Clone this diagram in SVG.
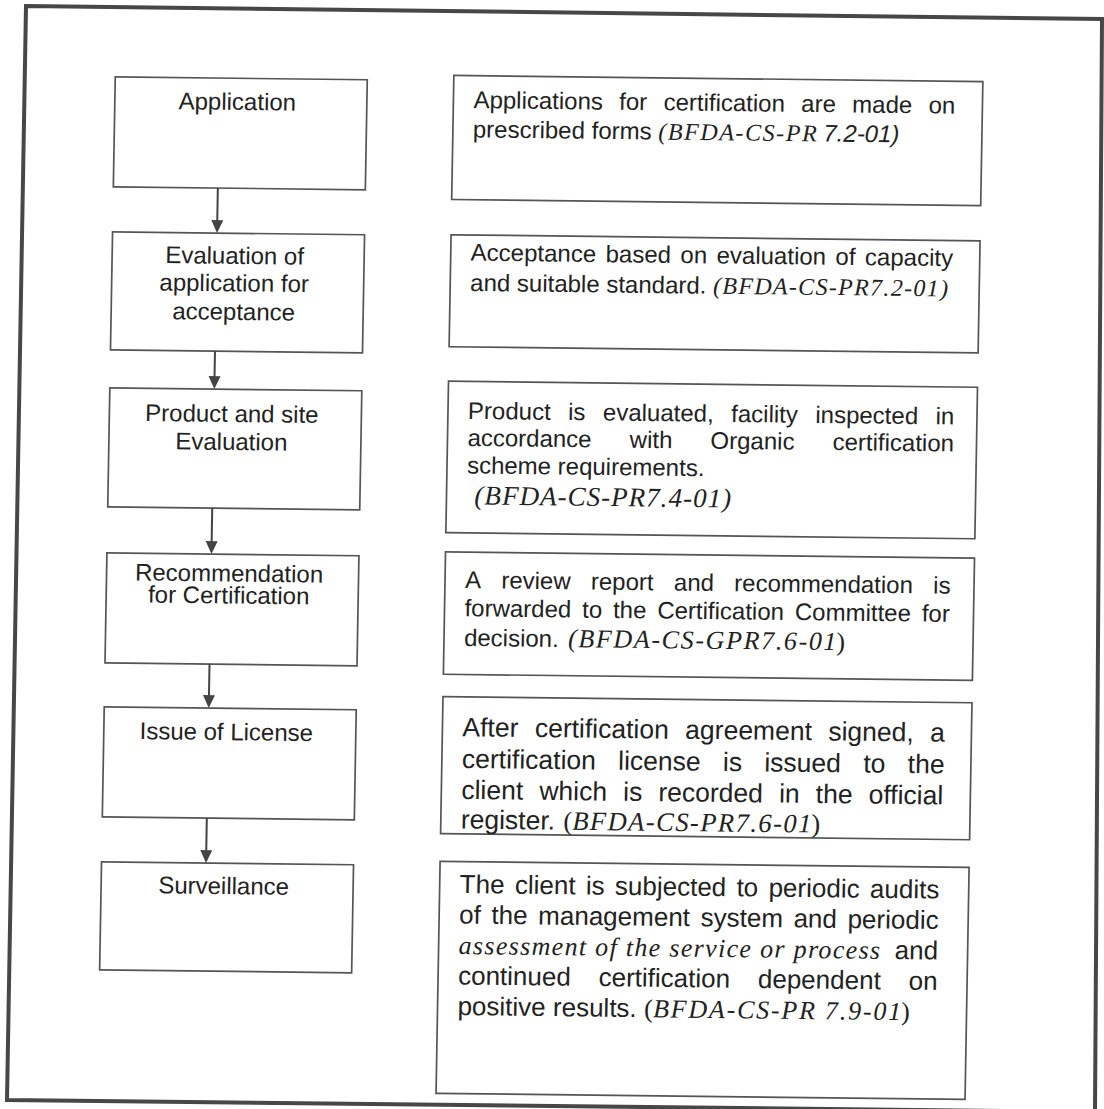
<svg xmlns="http://www.w3.org/2000/svg" width="1104" height="1109" viewBox="0 0 1104 1109">
<style>
.frame{fill:none;stroke:#474747;stroke-width:4;stroke-linejoin:miter}
.box{fill:none;stroke:#555;stroke-width:1.7}
.lt{font-family:"Liberation Sans",Arial,sans-serif;font-size:24px;fill:#222;text-anchor:middle}
.rt{font-family:"Liberation Sans",Arial,sans-serif;font-size:24px;fill:#222}
.rb{font-family:"Liberation Sans",Arial,sans-serif;font-size:26.5px;fill:#222}
.rc{font-family:"Liberation Sans",Arial,sans-serif;font-size:26px;fill:#222}
.si{font-family:"Liberation Serif","Times New Roman",serif;font-style:italic;fill:#222}
.su{font-family:"Liberation Serif","Times New Roman",serif;fill:#222}
.ai{font-family:"Liberation Sans",Arial,sans-serif;font-style:italic;font-size:24px;fill:#222}
.conn line{stroke:#444;stroke-width:2}
.conn path{fill:#444;stroke:none}
</style>
<rect width="1104" height="1109" fill="#fff"/>
<path class="frame" d="M26,6 L1102,19 L1095,1112 L7,1100 Z"/>
<g transform="matrix(1 0.0115 -0.0175 1 9.7 -6.35)">
<g id="n1"><rect class="box" x="107" y="82" width="252" height="110"/><text class="lt" x="229.5" y="113.6">Application</text></g>
<g id="n2"><rect class="box" x="107" y="237" width="252" height="118"/><text class="lt" x="229.5" y="267.6">Evaluation of</text><text class="lt" x="229.5" y="295">application for</text><text class="lt" x="229.5" y="323.6">acceptance</text></g>
<g id="n3"><rect class="box" x="107" y="393" width="252" height="119"/><text class="lt" x="229.5" y="425.7">Product and site</text><text class="lt" x="229.5" y="453.7">Evaluation</text></g>
<g id="n4"><rect class="box" x="107" y="558" width="252" height="110"/><text class="lt" x="229.5" y="585.2">Recommendation</text><text class="lt" x="229.5" y="607.2">for Certification</text></g>
<g id="n5"><rect class="box" x="107" y="712" width="252" height="110"/><text class="lt" x="229.5" y="743.8">Issue of License</text></g>
<g id="n6"><rect class="box" x="107" y="867" width="252" height="108"/><text class="lt" x="229.5" y="897.8">Surveillance</text></g>

<g id="d1"><rect class="box" x="445.5" y="76.7" width="529" height="124"/>
<text class="rt" y="109.1"><tspan x="465.6">Applications</tspan><tspan x="611.3">for</tspan><tspan x="655.6">certification</tspan><tspan x="793.3">are</tspan><tspan x="844.3">made</tspan><tspan x="920.6">on</tspan></text>
<text class="rt" x="465.5" y="138.4">prescribed forms</text>
<text class="si" x="650.9" y="138.4" font-size="24" textLength="158.4" lengthAdjust="spacing">(BFDA-CS-PR</text>
<text class="ai" x="816" y="138.4">7.2-01)</text>
</g>
<g id="d2"><rect class="box" x="445.5" y="236" width="529" height="112"/>
<text class="rt" x="465.5" y="261.6" word-spacing="2.8">Acceptance based on evaluation of capacity</text>
<text class="rt" x="465.5" y="291.9">and suitable standard.</text>
<text class="si" x="708.3" y="291.9" font-size="24" textLength="235" lengthAdjust="spacing">(BFDA-CS-PR7.2-01)</text>
</g>
<g id="d3"><rect class="box" x="445.5" y="382.4" width="529" height="151.5"/>
<text class="rt" y="419.9"><tspan x="465.5">Product</tspan><tspan x="565.7">is</tspan><tspan x="600.5">evaluated,</tspan><tspan x="728.7">facility</tspan><tspan x="812.9">inspected</tspan><tspan x="933.1">in</tspan></text>
<text class="rt" y="446.9"><tspan x="465.5">accordance</tspan><tspan x="627.7">with</tspan><tspan x="708.5">Organic</tspan><tspan x="830.6">certification</tspan></text>
<text class="rt" x="465.5" y="474.4">scheme requirements.</text>
<text class="si" x="473.5" y="505.4" font-size="27" textLength="256.6" lengthAdjust="spacing">(BFDA-CS-PR7.4-01)</text>
</g>
<g id="d4"><rect class="box" x="445.5" y="553.2" width="529" height="122.3"/>
<text class="rt" y="589.1"><tspan x="465.5">A</tspan><tspan x="501.8">review</tspan><tspan x="591.4">report</tspan><tspan x="674.4">and</tspan><tspan x="734.7">recommendation</tspan><tspan x="933.7">is</tspan></text>
<text class="rt" y="617.3"><tspan x="465.5">forwarded</tspan><tspan x="583.1">to</tspan><tspan x="614">the</tspan><tspan x="658.3">Certification</tspan><tspan x="795.9">Committee</tspan><tspan x="922.8">for</tspan></text>
<text class="rt" x="465.5" y="646.9">decision.</text>
<text class="si" x="569.6" y="646.9" font-size="26" textLength="268.4" lengthAdjust="spacing">(BFDA-CS-GPR7.6-01</text>
<text class="su" x="838" y="646.9" font-size="26">)</text>
</g>
<g id="d5"><rect class="box" x="445.5" y="697.9" width="529" height="137"/>
<text class="rb" y="737.2"><tspan x="465.5">After</tspan><tspan x="537.9">certification</tspan><tspan x="688.3">agreement</tspan><tspan x="831.4">signed,</tspan><tspan x="933.2">a</tspan></text>
<text class="rb" y="768.9"><tspan x="465.5">certification</tspan><tspan x="621.8">license</tspan><tspan x="726.6">is</tspan><tspan x="768">issued</tspan><tspan x="866.9">to</tspan><tspan x="911.3">the</tspan></text>
<text class="rb" y="799.9"><tspan x="465.5">client</tspan><tspan x="543.5">which</tspan><tspan x="627.3">is</tspan><tspan x="662.5">recorded</tspan><tspan x="783.2">in</tspan><tspan x="819.9">the</tspan><tspan x="872.8">official</tspan></text>
<text class="rb" x="465.5" y="829.5">register.</text>
<text class="su" x="568" y="829.5" font-size="26.5">(</text>
<text class="si" x="577" y="829.5" font-size="26.5" textLength="239" lengthAdjust="spacing">BFDA-CS-PR7.6-01</text>
<text class="su" x="816" y="829.5" font-size="26.5">)</text>
</g>
<g id="d6"><rect class="box" x="445.5" y="862.6" width="529" height="232"/>
<text class="rc" x="465.5" y="894" word-spacing="3.1">The client is subjected to periodic audits</text>
<text class="rc" x="465.5" y="924.5" word-spacing="3.4">of the management system and periodic</text>
<text class="si" x="465.5" y="955" font-size="26" textLength="421.5" lengthAdjust="spacing">assessment of the service or process</text>
<text class="rc" x="901.6" y="955">and</text>
<text class="rc" y="985.5"><tspan x="465.5">continued</tspan><tspan x="606">certification</tspan><tspan x="765.3">dependent</tspan><tspan x="916">on</tspan></text>
<text class="rc" x="465.5" y="1016">positive results.</text>
<text class="su" x="652" y="1016" font-size="26">(</text>
<text class="si" x="661" y="1016" font-size="26" textLength="248" lengthAdjust="spacing">BFDA-CS-PR 7.9-01</text>
<text class="su" x="909" y="1016" font-size="26">)</text>
</g>

<g id="connectors" class="conn">
<line x1="211.5" y1="192" x2="211.5" y2="226"/><path d="M205.5,224 L217.5,224 L211.5,237 Z"/>
<line x1="211.5" y1="355" x2="211.5" y2="382"/><path d="M205.5,380 L217.5,380 L211.5,393 Z"/>
<line x1="211.5" y1="512" x2="211.5" y2="547"/><path d="M205.5,545 L217.5,545 L211.5,558 Z"/>
<line x1="211.5" y1="668" x2="211.5" y2="701"/><path d="M205.5,699 L217.5,699 L211.5,712 Z"/>
<line x1="211.5" y1="822" x2="211.5" y2="856"/><path d="M205.5,854 L217.5,854 L211.5,867 Z"/>
</g>
</g>
</svg>
